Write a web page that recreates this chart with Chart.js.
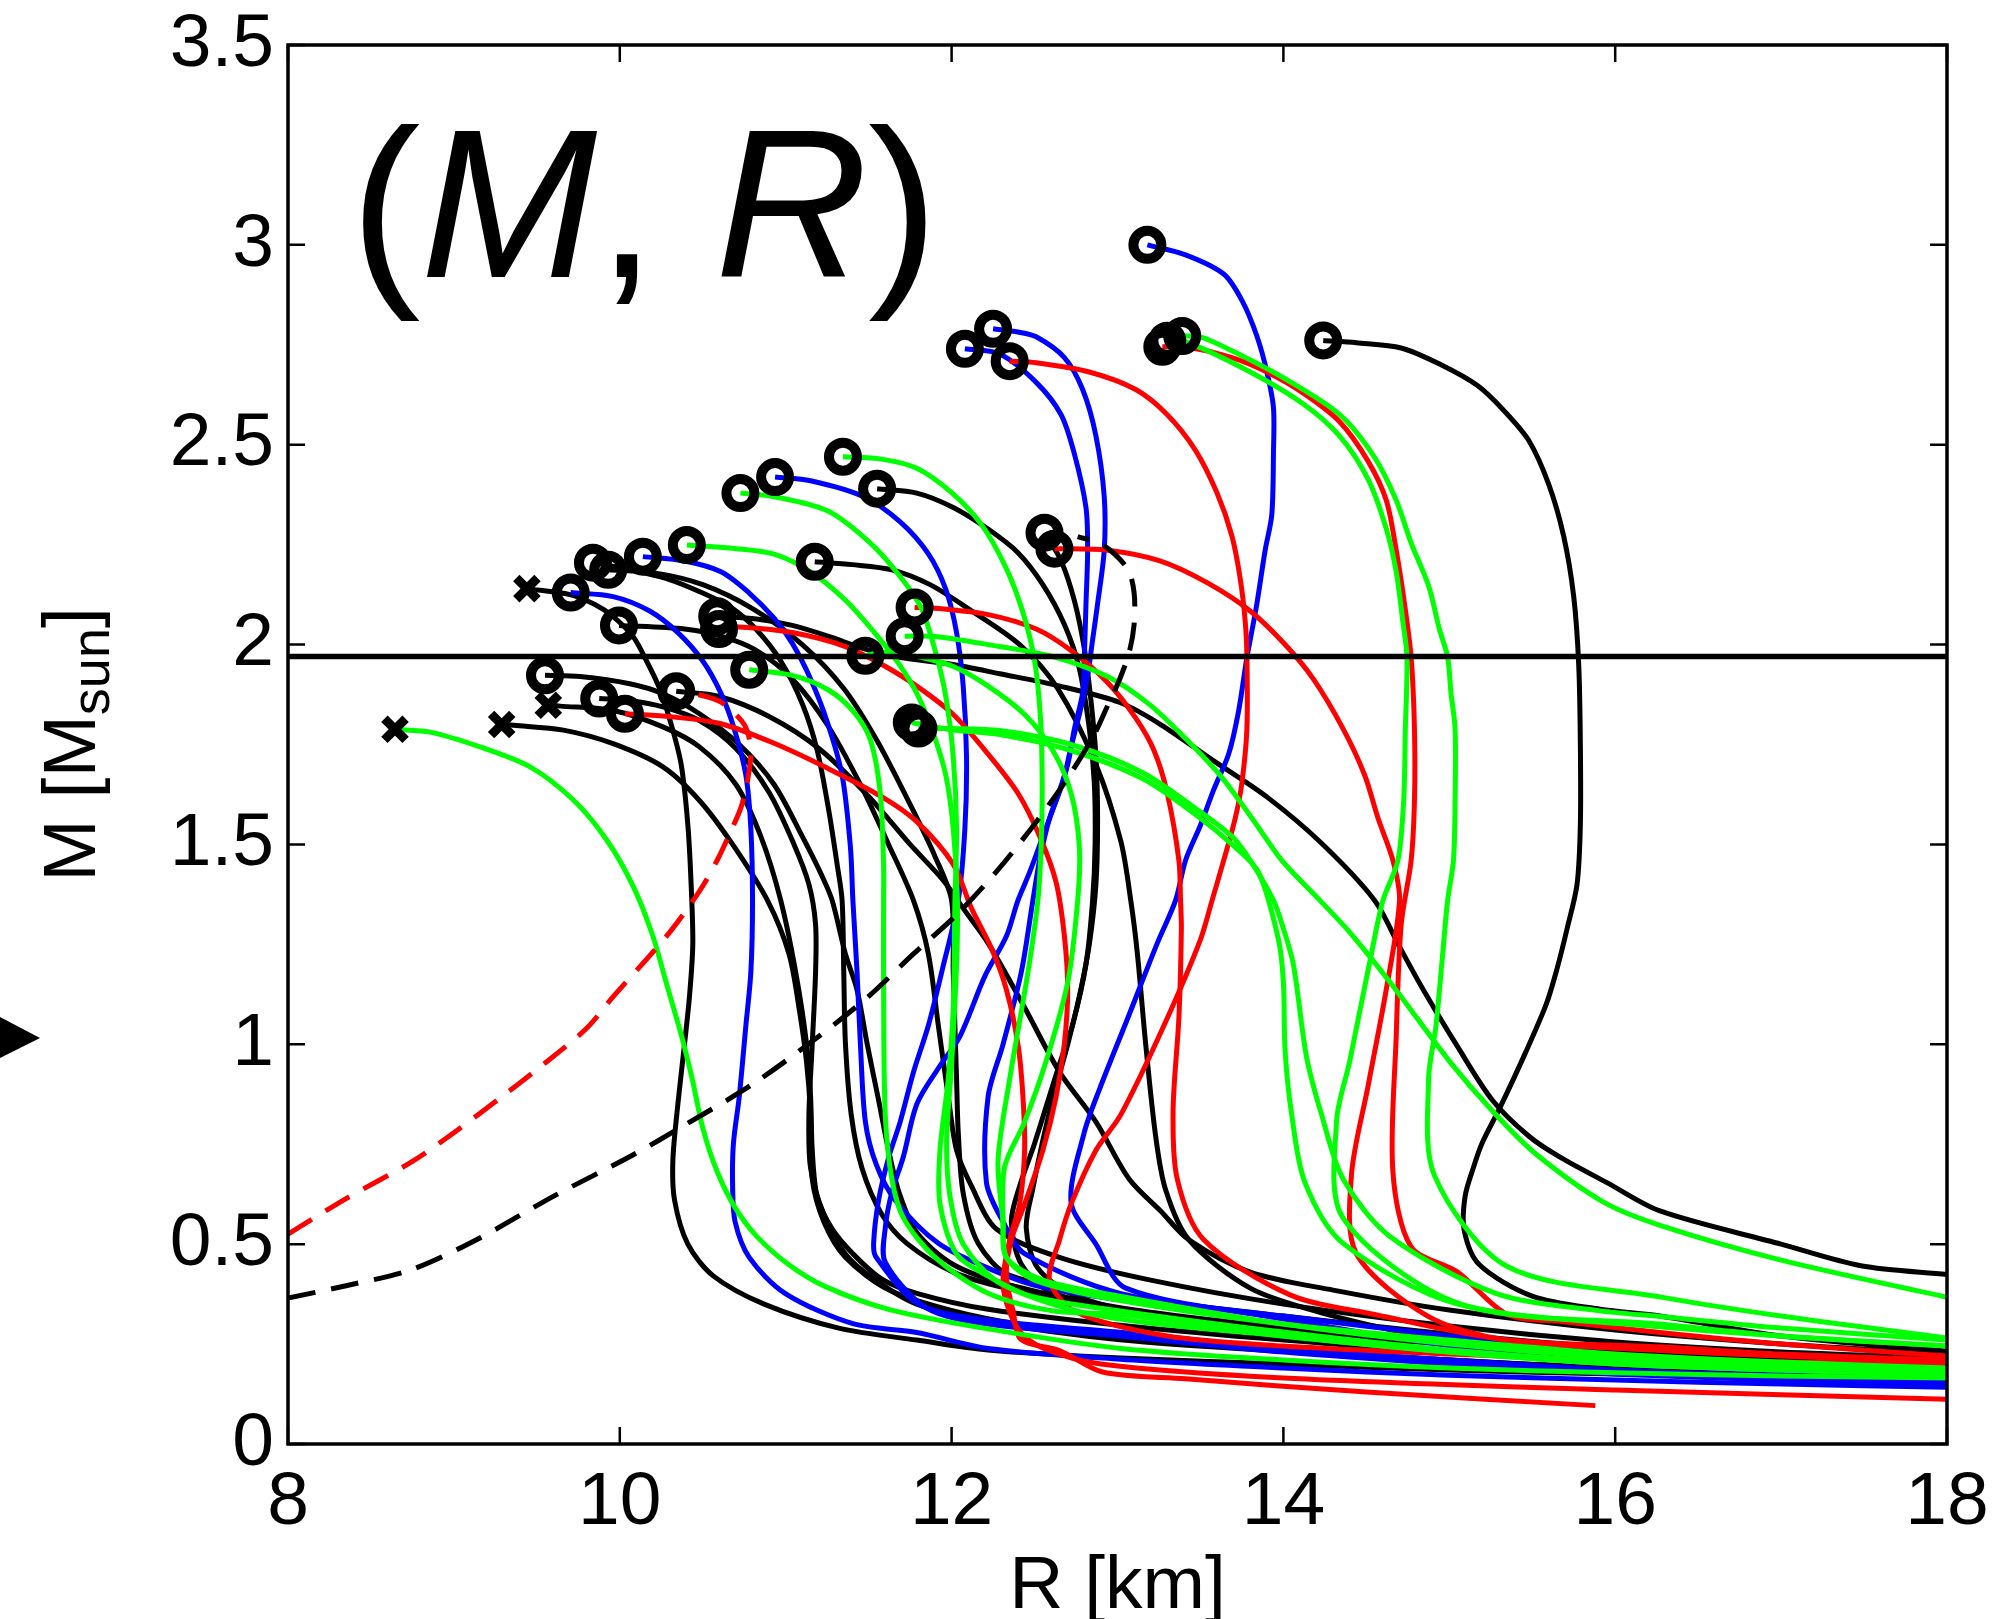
<!DOCTYPE html>
<html>
<head>
<meta charset="utf-8">
<title>(M, R)</title>
<script src="https://cdn.jsdelivr.net/npm/chart.js@4/dist/chart.umd.min.js"></script>
<style>
  html, body { margin: 0; padding: 0; background: #ffffff; }
  canvas { display: block; }
</style>
</head>
<body>
<canvas id="mr" width="1998" height="1619" style="width:1998px;height:1619px"></canvas>
<script>
// Axis ticks and labels
const xTicks = [8, 10, 12, 14, 16, 18];
const xTickLabels = ['8', '10', '12', '14', '16', '18'];
const yTicks = [0, 0.5, 1, 1.5, 2, 2.5, 3, 3.5];
const yTickLabels = ['0', '0.5', '1', '1.5', '2', '2.5', '3', '3.5'];

// Reference mass line
const massLine = 1.97;

// Mass-radius curves, [R in km, M in Msun], starting at the maximum-mass end
const blkK1 = [[14.24,2.761],[14.44,2.755],[14.71,2.742],[14.95,2.70],[15.17,2.648],[15.33,2.585],[15.48,2.51],[15.60,2.40],[15.69,2.27],[15.75,2.12],[15.78,1.95],[15.79,1.75],[15.79,1.55],[15.77,1.40],[15.71,1.289],[15.65,1.19],[15.585,1.101],[15.456,0.976],[15.306,0.842],[15.198,0.753],[15.144,0.69],[15.095,0.619],[15.09,0.534],[15.18,0.449],[15.50,0.37],[15.91,0.337],[16.27,0.32],[17.0,0.27],[18,0.232]];
const blkK2 = [[11.551,2.39],[11.79,2.379],[12.01,2.343],[12.22,2.289],[12.40,2.23],[12.55,2.15],[12.68,2.05],[12.77,1.94],[12.83,1.79],[12.86,1.655],[12.865,1.50],[12.85,1.36],[12.81,1.20],[12.73,1.05],[12.65,0.95],[12.50,0.752],[12.41,0.645],[12.36,0.556],[12.42,0.45],[12.6,0.38],[13.2,0.32],[14,0.28],[15,0.25],[16,0.222],[17,0.205],[18,0.19]];
const blkK3 = [[10.587,2.071],[10.824,2.064],[11.04,2.048],[11.255,2.021],[11.47,1.99],[11.685,1.968],[12.008,1.95],[12.29,1.927],[12.654,1.896],[13.015,1.855],[13.26,1.80],[13.58,1.709],[13.9,1.619],[14.23,1.503],[14.55,1.36],[14.70,1.244],[14.83,1.146],[15.05,0.994],[15.26,0.86],[15.48,0.77],[15.67,0.717],[15.95,0.654],[16.27,0.583],[17.0,0.50],[17.48,0.446],[18,0.424]];
const blkK4 = [[11.175,2.207],[11.40,2.20],[11.64,2.187],[11.87,2.15],[12.10,2.09],[12.41,2.0],[12.64,1.89],[12.87,1.70],[13.02,1.508],[13.08,1.36],[13.12,1.226],[13.17,1.0],[13.23,0.77],[13.29,0.636],[13.43,0.511],[13.80,0.39],[14.19,0.333],[14.62,0.288],[15.05,0.252],[15.48,0.234],[16.27,0.212],[17,0.198],[18,0.185]];
const blkK5 = [[9.44,2.14],[9.70,2.125],[9.85,2.10],[9.96,2.07],[10.08,2.02],[10.16,1.96],[10.24,1.89],[10.31,1.80],[10.37,1.70],[10.41,1.55],[10.43,1.40],[10.44,1.25],[10.42,1.12],[10.39,1.00],[10.35,0.85],[10.32,0.71],[10.33,0.61],[10.41,0.50],[10.565,0.42],[10.87,0.35],[11.32,0.29],[11.79,0.26],[12.22,0.235],[13.02,0.215],[14,0.2],[15,0.185],[16,0.175],[17,0.167],[18,0.16]];
const blkA = [[9.838,2.205],[10.03,2.19],[10.29,2.164],[10.50,2.129],[10.67,2.093],[10.82,2.039],[10.97,1.959],[11.10,1.852],[11.19,1.735],[11.26,1.584],[11.31,1.45],[11.34,1.36],[11.35,1.181],[11.36,1.003],[11.395,0.824],[11.46,0.69],[11.58,0.574],[11.73,0.502],[12.01,0.43],[12.33,0.39],[13.0,0.335],[14,0.29],[15,0.255],[16,0.228],[17,0.21],[18,0.198]];
const blkB = [[9.93,2.187],[10.2,2.18],[10.5,2.15],[10.8,2.09],[11.1,2.0],[11.35,1.89],[11.55,1.76],[11.75,1.6],[11.9,1.47],[12.0,1.36],[12.01,1.181],[12.03,0.913],[12.04,0.78],[12.07,0.627],[12.16,0.502],[12.35,0.422],[13.015,0.37],[14,0.32],[15,0.275],[16,0.24],[17,0.215],[18,0.2]];
const blkC = [[9.995,2.048],[10.39,2.039],[10.61,2.021],[10.82,1.986],[11.04,1.914],[11.25,1.80],[11.45,1.65],[11.62,1.50],[11.77,1.36],[11.86,1.226],[11.92,1.047],[11.98,0.869],[12.03,0.735],[12.12,0.645],[12.27,0.538],[12.65,0.467],[13.2,0.41],[14,0.35],[15,0.295],[16,0.255],[17,0.23],[18,0.215]];
const blkD = [[9.549,1.923],[9.76,1.92],[10.06,1.902],[10.26,1.877],[10.48,1.827],[10.72,1.75],[10.93,1.65],[11.1,1.52],[11.22,1.42],[11.28,1.36],[11.36,1.226],[11.43,1.136],[11.49,1.003],[11.56,0.86],[11.62,0.735],[11.685,0.627],[11.79,0.529],[12.01,0.449],[12.33,0.40],[13.015,0.341],[14,0.29],[15,0.25],[16,0.22],[17,0.2],[18,0.19]];
const blkE = [[9.569,1.848],[9.64,1.846],[9.96,1.835],[10.26,1.794],[10.48,1.744],[10.7,1.65],[10.85,1.52],[10.97,1.36],[11.06,1.181],[11.125,1.003],[11.15,0.869],[11.16,0.735],[11.19,0.618],[11.28,0.538],[11.405,0.476],[11.577,0.413],[11.79,0.377],[12.22,0.337],[13.015,0.297],[14,0.26],[15,0.23],[16,0.21],[17,0.195],[18,0.185]];
const blkF = [[9.288,1.80],[9.36,1.798],[9.66,1.786],[9.96,1.752],[10.26,1.694],[10.48,1.61],[10.68,1.50],[10.89,1.36],[11.02,1.226],[11.08,1.092],[11.125,0.958],[11.15,0.824],[11.16,0.663],[11.23,0.556],[11.36,0.467],[11.62,0.386],[12.01,0.333],[12.44,0.297],[13.015,0.266],[14,0.235],[15,0.21],[16,0.19],[17,0.18],[18,0.172]];
const blkG = [[9.876,1.865],[10.06,1.86],[10.26,1.844],[10.48,1.81],[10.7,1.74],[10.9,1.63],[11.05,1.5],[11.14,1.4],[11.18,1.30],[11.18,1.18],[11.16,1.0],[11.14,0.824],[11.15,0.69],[11.23,0.574],[11.36,0.475],[11.53,0.413],[11.79,0.35],[12.22,0.306],[13.015,0.261],[14,0.232],[15,0.21],[16,0.19],[17,0.18],[18,0.17]];
const blkH = [[10.34,1.883],[10.6,1.87],[10.9,1.82],[11.2,1.74],[11.5,1.62],[11.75,1.50],[11.95,1.41],[12.07,1.34],[12.22,1.253],[12.44,1.092],[12.65,0.931],[12.87,0.806],[13.07,0.663],[13.26,0.583],[13.43,0.511],[13.80,0.43],[14.3,0.385],[15,0.335],[16,0.285],[17,0.25],[18,0.226]];
const blkI = [[12.56,2.28],[12.66,2.21],[12.74,2.11],[12.80,1.99],[12.84,1.86],[12.87,1.72],[12.88,1.56],[12.87,1.40],[12.83,1.25],[12.77,1.12],[12.70,1.0],[12.62,0.88],[12.55,0.76],[12.49,0.64],[12.45,0.54],[12.52,0.44],[12.75,0.37],[13.3,0.315],[14.2,0.275],[15.2,0.245],[16.2,0.22],[17.2,0.2],[18,0.19]];

const bluB1 = [[13.18,3.0],[13.41,2.975],[13.64,2.927],[13.75,2.861],[13.84,2.772],[13.90,2.683],[13.94,2.593],[13.94,2.477],[13.93,2.325],[13.89,2.236],[13.84,2.102],[13.80,2.012],[13.78,1.968],[13.73,1.834],[13.67,1.726],[13.58,1.637],[13.50,1.548],[13.41,1.46],[13.35,1.36],[13.24,1.253],[13.07,1.074],[12.89,0.886],[12.80,0.78],[12.72,0.605],[12.87,0.50],[13.05,0.39],[13.97,0.315],[15.05,0.243],[16.27,0.199],[17,0.18],[18,0.165]];
const bluB2 = [[12.25,2.79],[12.40,2.782],[12.51,2.77],[12.68,2.718],[12.79,2.638],[12.87,2.522],[12.92,2.37],[12.92,2.236],[12.88,2.102],[12.85,2.012],[12.82,1.923],[12.775,1.834],[12.72,1.744],[12.67,1.655],[12.59,1.565],[12.53,1.46],[12.49,1.36],[12.42,1.18],[12.31,1.0],[12.22,0.869],[12.21,0.654],[12.31,0.556],[12.44,0.476],[13.015,0.377],[14,0.32],[15,0.27],[16,0.22],[17,0.19],[18,0.172]];
const bluB3 = [[12.08,2.74],[12.29,2.727],[12.51,2.656],[12.66,2.575],[12.74,2.477],[12.81,2.343],[12.82,2.236],[12.81,2.102],[12.80,1.968],[12.79,1.879],[12.74,1.789],[12.70,1.70],[12.63,1.61],[12.55,1.52],[12.47,1.43],[12.40,1.36],[12.33,1.27],[12.20,1.17],[12.05,1.02],[11.92,0.94],[11.79,0.85],[11.71,0.72],[11.64,0.63],[11.60,0.54],[11.60,0.455],[11.85,0.34],[12.22,0.30],[13.0,0.27],[14,0.23],[15,0.2],[16,0.175],[17,0.16],[18,0.15]];
const bluB4 = [[10.936,2.419],[11.15,2.41],[11.47,2.37],[11.69,2.307],[11.86,2.227],[11.965,2.138],[12.03,2.03],[12.07,1.896],[12.09,1.718],[12.08,1.539],[12.04,1.36],[11.94,1.18],[11.86,1.047],[11.77,0.93],[11.69,0.806],[11.62,0.716],[11.56,0.61],[11.53,0.502],[11.545,0.467],[11.8,0.35],[12.22,0.31],[13.0,0.28],[14,0.24],[15,0.21],[16,0.185],[17,0.17],[18,0.155]];
const bluB5 = [[9.704,2.13],[9.96,2.12],[10.18,2.084],[10.35,2.03],[10.50,1.959],[10.61,1.878],[10.69,1.789],[10.76,1.673],[10.79,1.539],[10.80,1.36],[10.79,1.181],[10.76,1.047],[10.72,0.869],[10.685,0.752],[10.68,0.645],[10.695,0.556],[10.78,0.467],[10.996,0.377],[11.405,0.301],[11.79,0.279],[12.22,0.239],[13.015,0.212],[14,0.19],[15,0.172],[16,0.16],[17,0.15],[18,0.142]];
const bluB6 = [[10.139,2.22],[10.39,2.209],[10.61,2.182],[10.78,2.129],[10.93,2.066],[11.04,2.003],[11.15,1.914],[11.25,1.807],[11.34,1.673],[11.39,1.494],[11.405,1.36],[11.43,1.181],[11.45,1.003],[11.48,0.807],[11.545,0.70],[11.66,0.61],[11.92,0.502],[12.22,0.44],[12.52,0.395],[13.015,0.36],[14,0.3],[15,0.25],[16,0.21],[17,0.18],[18,0.16]];

const redR1 = [[13.27,2.745],[13.41,2.745],[13.69,2.718],[13.90,2.682],[14.12,2.629],[14.34,2.557],[14.51,2.459],[14.62,2.361],[14.68,2.236],[14.73,2.102],[14.77,1.968],[14.79,1.789],[14.79,1.61],[14.77,1.46],[14.71,1.30],[14.68,1.02],[14.66,0.681],[14.77,0.493],[15.05,0.43],[15.35,0.324],[15.69,0.306],[16.27,0.279],[17,0.25],[18,0.22]];
const redR2 = [[12.35,2.709],[12.51,2.705],[12.83,2.682],[13.11,2.638],[13.30,2.575],[13.47,2.486],[13.60,2.379],[13.69,2.271],[13.74,2.164],[13.77,2.057],[13.78,1.968],[13.78,1.789],[13.75,1.655],[13.71,1.566],[13.64,1.46],[13.57,1.36],[13.50,1.262],[13.28,1.047],[13.02,0.824],[12.87,0.735],[12.72,0.60],[12.65,0.51],[12.59,0.41],[12.75,0.33],[13.3,0.27],[14,0.245],[15,0.225],[16,0.21],[17,0.205],[18,0.2]];
const redR3 = [[12.62,2.24],[12.94,2.236],[13.26,2.209],[13.54,2.155],[13.80,2.084],[14.01,2.0],[14.18,1.914],[14.36,1.789],[14.49,1.673],[14.57,1.566],[14.66,1.46],[14.70,1.36],[14.62,1.137],[14.51,0.895],[14.41,0.672],[14.44,0.476],[14.87,0.32],[15.33,0.261],[16.27,0.234],[17,0.22],[18,0.205]];
const redR4 = [[10.598,2.039],[10.72,2.044],[11.04,2.03],[11.36,1.995],[11.58,1.95],[11.79,1.896],[12.01,1.825],[12.22,1.726],[12.40,1.628],[12.53,1.521],[12.63,1.405],[12.68,1.27],[12.70,1.137],[12.68,1.003],[12.63,0.869],[12.55,0.735],[12.44,0.60],[12.36,0.511],[12.33,0.422],[12.37,0.333],[12.42,0.261],[12.65,0.234],[12.91,0.18],[13.41,0.163],[14.5,0.13],[15.88,0.096]];
const redR5 = [[11.777,2.093],[11.90,2.091],[12.22,2.075],[12.51,2.039],[12.72,1.985],[12.94,1.905],[13.11,1.816],[13.22,1.735],[13.30,1.628],[13.37,1.46],[13.38,1.36],[13.385,1.289],[13.37,1.066],[13.335,0.833],[13.36,0.663],[13.52,0.511],[14.04,0.373],[14.55,0.324],[15.33,0.261],[16.27,0.243],[17,0.225],[18,0.21]];
const redR6 = [[10.031,1.827],[10.29,1.82],[10.61,1.802],[10.93,1.753],[11.25,1.691],[11.58,1.619],[11.79,1.557],[12.01,1.45],[12.12,1.34],[12.24,1.24],[12.33,1.137],[12.40,1.0],[12.43,0.869],[12.44,0.735],[12.41,0.60],[12.35,0.51],[12.31,0.395],[12.40,0.288],[12.55,0.24],[12.9,0.2],[14,0.165],[16,0.135],[18,0.112]];

const grnG1 = [[8.645,1.788],[8.856,1.781],[9.157,1.744],[9.459,1.694],[9.72,1.611],[9.921,1.511],[10.082,1.394],[10.199,1.271],[10.285,1.146],[10.372,1.021],[10.436,0.914],[10.501,0.789],[10.587,0.681],[10.694,0.592],[10.824,0.52],[11.017,0.449],[11.233,0.395],[11.62,0.337],[12.22,0.288],[13.02,0.239],[14,0.21],[15,0.19],[16,0.178],[17,0.17],[18,0.165]];
const grnG2 = [[11.345,2.47],[11.577,2.464],[11.79,2.441],[12.0,2.38],[12.18,2.30],[12.33,2.19],[12.43,2.08],[12.50,1.96],[12.535,1.82],[12.546,1.66],[12.54,1.50],[12.52,1.36],[12.46,1.18],[12.35,0.913],[12.28,0.71],[12.31,0.556],[12.33,0.467],[12.55,0.41],[13.015,0.37],[14,0.3],[15,0.25],[16,0.215],[17,0.195],[18,0.18]];
const grnG3 = [[10.727,2.379],[10.93,2.37],[11.255,2.334],[11.51,2.254],[11.685,2.173],[11.815,2.093],[11.90,1.986],[11.965,1.87],[12.01,1.718],[12.03,1.539],[12.02,1.36],[12.01,1.092],[11.98,0.913],[11.93,0.735],[11.93,0.60],[12.03,0.475],[12.22,0.42],[12.48,0.37],[13.015,0.333],[14,0.28],[15,0.235],[16,0.205],[17,0.19],[18,0.178]];
const grnG4 = [[10.404,2.249],[10.7,2.24],[10.93,2.226],[11.15,2.182],[11.36,2.111],[11.535,2.03],[11.685,1.95],[11.79,1.878],[11.88,1.789],[11.965,1.673],[12.01,1.539],[12.035,1.36],[12.03,1.2],[12.0,0.95],[11.97,0.76],[11.99,0.62],[12.07,0.50],[12.3,0.40],[12.9,0.32],[14,0.27],[15,0.23],[16,0.2],[17,0.185],[18,0.172]];
const grnG5 = [[11.717,2.021],[11.9,2.02],[12.29,1.995],[12.61,1.97],[12.94,1.92],[13.19,1.851],[13.41,1.765],[13.62,1.672],[13.82,1.56],[13.99,1.46],[14.22,1.36],[14.40,1.28],[14.66,1.146],[15.0,0.958],[15.26,0.833],[15.52,0.726],[15.93,0.605],[16.27,0.547],[17.0,0.46],[18,0.367]];
const grnG6 = [[11.48,1.972],[11.58,1.981],[11.79,1.97],[12.01,1.945],[12.22,1.896],[12.44,1.825],[12.61,1.735],[12.72,1.628],[12.77,1.494],[12.76,1.36],[12.70,1.155],[12.57,0.958],[12.44,0.806],[12.32,0.694],[12.31,0.56],[12.33,0.467],[12.5,0.41],[13.0,0.36],[14,0.3],[15,0.26],[16,0.225],[17,0.205],[18,0.19]];
const grnG7 = [[10.78,1.937],[11.04,1.923],[11.255,1.887],[11.405,1.834],[11.51,1.762],[11.57,1.628],[11.59,1.45],[11.59,1.36],[11.59,1.137],[11.60,0.824],[11.64,0.663],[11.71,0.565],[11.90,0.467],[12.22,0.377],[12.61,0.333],[13.015,0.324],[14,0.27],[15,0.23],[16,0.2],[17,0.185],[18,0.175]];
const grnG8a = [[11.80,1.79],[12.0,1.79],[12.29,1.785],[12.72,1.75],[13.15,1.68],[13.47,1.59],[13.69,1.52],[13.80,1.46],[13.94,1.36],[14.00,1.289],[14.06,1.2],[14.14,0.967],[14.23,0.824],[14.36,0.663],[14.64,0.52],[15.28,0.377],[15.91,0.333],[16.27,0.319],[17,0.29],[18,0.26]];
const grnG8b = [[11.76,1.805],[12.0,1.787],[12.29,1.775],[12.72,1.735],[13.15,1.665],[13.47,1.575],[13.69,1.50],[13.85,1.43],[13.97,1.262],[14.00,1.155],[14.01,0.985],[14.05,0.824],[14.13,0.654],[14.36,0.502],[15.05,0.35],[16.27,0.293],[17,0.27],[18,0.245]];
const grnG9 = [[13.39,2.772],[13.50,2.77],[13.69,2.735],[14.01,2.665],[14.34,2.575],[14.55,2.468],[14.68,2.361],[14.77,2.254],[14.875,2.147],[14.94,2.039],[14.99,1.968],[15.01,1.879],[15.035,1.789],[15.035,1.61],[15.025,1.46],[14.99,1.36],[14.96,1.226],[14.92,1.047],[14.875,0.913],[14.91,0.672],[15.35,0.444],[16.27,0.368],[17,0.32],[18,0.265]];
const grnG10 = [[13.30,2.76],[13.41,2.758],[13.80,2.682],[14.12,2.602],[14.34,2.521],[14.51,2.414],[14.62,2.29],[14.68,2.182],[14.72,2.057],[14.745,1.968],[14.735,1.789],[14.725,1.61],[14.69,1.46],[14.60,1.36],[14.53,1.226],[14.40,0.958],[14.32,0.806],[14.36,0.565],[15.07,0.35],[16.27,0.30],[17,0.27],[18,0.245]];

// Dashed limit curves
const blkDash = [[8,0.365],[8.35,0.396],[8.75,0.437],[9.145,0.513],[9.61,0.622],[10.07,0.721],[10.4,0.80],[10.8,0.90],[11.2,1.02],[11.5,1.12],[11.77,1.226],[12.03,1.324],[12.27,1.432],[12.48,1.54],[12.69,1.66],[12.86,1.775],[12.95,1.856],[13.01,1.91],[13.07,1.98],[13.10,2.05],[13.10,2.13],[13.06,2.19],[12.91,2.25],[12.76,2.27]];
const redDash = [[8,0.525],[8.35,0.614],[8.75,0.707],[9.01,0.782],[9.28,0.866],[9.54,0.95],[9.8,1.04],[9.96,1.119],[10.19,1.226],[10.30,1.28],[10.405,1.338],[10.50,1.396],[10.59,1.463],[10.66,1.525],[10.73,1.592],[10.77,1.66],[10.79,1.735],[10.75,1.80],[10.61,1.856],[10.46,1.877]];

const BLACK = '#000000', RED = '#ff0000', BLUE = '#0000ff', GREEN = '#00ff00';
const FONT = "'Liberation Sans', Arial, Helvetica, sans-serif";
const LINE_W = 5;

// curve, end marker ('o' circle, 'x' cross)
const greenSeries = [
  [grnG1, 'x'], [grnG2, 'o'], [grnG3, 'o'], [grnG4, 'o'], [grnG5, 'o'], [grnG6, 'o'],
  [grnG7, 'o'], [grnG8a, 'o'], [grnG8b, 'o'], [grnG9, 'o'], [grnG10, 'o']
];
const redSeries = [[redR1, 'o'], [redR2, 'o'], [redR3, 'o'], [redR4, 'o'], [redR5, 'o'], [redR6, 'o']];
const blueSeries = [[bluB1, 'o'], [bluB2, 'o'], [bluB3, 'o'], [bluB4, 'o'], [bluB5, 'o'], [bluB6, 'o']];
const blackSeries = [
  [blkK1, 'o'], [blkK2, 'o'], [blkK3, 'o'], [blkK4, 'o'], [blkK5, 'x'], [blkA, 'o'], [blkB, 'o'],
  [blkC, 'o'], [blkD, 'o'], [blkE, 'x'], [blkF, 'x'], [blkG, 'o'], [blkH, 'o'], [blkI, 'o']
];

const toXY = arr => arr.map(([x, y]) => ({ x, y }));

function curveDataset(arr, color) {
  return {
    data: toXY(arr),
    showLine: true,
    borderColor: color,
    backgroundColor: color,
    borderWidth: LINE_W,
    pointRadius: 0,
    pointHoverRadius: 0,
    tension: 0.3,
    borderJoinStyle: 'round',
    fill: false
  };
}

const allSeries = [...greenSeries, ...redSeries, ...blueSeries, ...blackSeries];

const circleEnds = allSeries.filter(s => s[1] === 'o').map(s => ({ x: s[0][0][0], y: s[0][0][1] }));
const crossEnds = allSeries.filter(s => s[1] === 'x').map(s => ({ x: s[0][0][0], y: s[0][0][1] }));

const datasets = [
  {
    data: circleEnds, showLine: false, pointStyle: 'circle',
    radius: 14, pointRadius: 14, pointHoverRadius: 14,
    borderWidth: 10, pointBorderWidth: 10, borderColor: BLACK, pointBorderColor: BLACK,
    backgroundColor: 'rgba(0,0,0,0)', pointBackgroundColor: 'rgba(0,0,0,0)'
  },
  {
    data: crossEnds, showLine: false, pointStyle: 'crossRot',
    radius: 15, pointRadius: 15, pointHoverRadius: 15,
    borderWidth: 9, pointBorderWidth: 9, borderColor: BLACK, pointBorderColor: BLACK,
    backgroundColor: BLACK, pointBackgroundColor: BLACK
  },
  Object.assign(curveDataset([[8, massLine], [18, massLine]], BLACK), { borderWidth: 5.5, tension: 0 }),
  Object.assign(curveDataset(blkDash, BLACK), { borderDash: [28, 16] }),
  Object.assign(curveDataset(redDash, RED), { borderDash: [28, 16] }),
  ...greenSeries.map(s => curveDataset(s[0], GREEN)),
  ...redSeries.map(s => curveDataset(s[0], RED)),
  ...blueSeries.map(s => curveDataset(s[0], BLUE)),
  ...blackSeries.map(s => curveDataset(s[0], BLACK))
];

// Plot area placement within the canvas
const area = { left: 288, top: 45, right: 1947, bottom: 1444 };
const pad = { left: 0, right: 51, top: 45, bottom: 0 };
let yAxisWidth = area.left;
let xAxisHeight = 1619 - area.bottom;

// Frame, inward ticks and text decorations
const framePlugin = {
  id: 'frame',
  afterDraw(chart) {
    const { ctx, chartArea: a, scales } = chart;
    const xs = scales.x, ys = scales.y;
    ctx.save();
    ctx.strokeStyle = BLACK;
    ctx.lineWidth = 2.5;
    const tl = 17;
    ctx.beginPath();
    xTicks.forEach(v => {
      const px = xs.getPixelForValue(v);
      ctx.moveTo(px, a.bottom); ctx.lineTo(px, a.bottom - tl);
      ctx.moveTo(px, a.top); ctx.lineTo(px, a.top + tl);
    });
    yTicks.forEach(v => {
      const py = ys.getPixelForValue(v);
      ctx.moveTo(a.left, py); ctx.lineTo(a.left + tl, py);
      ctx.moveTo(a.right, py); ctx.lineTo(a.right - tl, py);
    });
    ctx.stroke();
    ctx.lineWidth = 3.5;
    ctx.strokeRect(a.left, a.top, a.right - a.left, a.bottom - a.top);

    ctx.fillStyle = BLACK;
    // x axis title
    ctx.font = `75px ${FONT}`;
    ctx.textAlign = 'center';
    ctx.textBaseline = 'alphabetic';
    ctx.fillText('R [km]', (a.left + a.right) / 2, 1608);

    // y axis title with subscript
    ctx.save();
    ctx.translate(95, (a.top + a.bottom) / 2);
    ctx.rotate(-Math.PI / 2);
    ctx.textAlign = 'left';
    const f1 = `75px ${FONT}`, f2 = `54px ${FONT}`;
    ctx.font = f1;
    const w1 = ctx.measureText('M [M').width;
    const w3 = ctx.measureText(']').width;
    ctx.font = f2;
    const w2 = ctx.measureText('sun').width;
    const x0 = -(w1 + w2 + w3) / 2;
    ctx.font = f1; ctx.fillText('M [M', x0, 0);
    ctx.font = f2; ctx.fillText('sun', x0 + w1, 14);
    ctx.font = f1; ctx.fillText(']', x0 + w1 + w2, 0);
    ctx.restore();

    // panel label (M, R)
    const parts = [['(', false], ['M', true], [', ', false], ['R', true], [')', false]];
    let tx = 350;
    ctx.textAlign = 'left';
    parts.forEach(([t, it]) => {
      ctx.font = `${it ? 'italic ' : ''}212px ${FONT}`;
      ctx.fillText(t, tx, 277);
      tx += ctx.measureText(t).width;
    });

    // marker at the left edge
    ctx.beginPath();
    ctx.moveTo(0, 1017); ctx.lineTo(40, 1038); ctx.lineTo(0, 1058); ctx.closePath();
    ctx.fill();
    ctx.restore();
  }
};

const chart = new Chart(document.getElementById('mr'), {
  type: 'scatter',
  data: { datasets },
  options: {
    responsive: false,
    devicePixelRatio: 1,
    animation: false,
    events: [],
    layout: { padding: Object.assign({}, pad) },
    plugins: { legend: { display: false }, tooltip: { enabled: false }, title: { display: false } },
    scales: {
      x: {
        type: 'linear', position: 'bottom', min: 8, max: 18,
        afterBuildTicks: s => { s.ticks = xTicks.map(v => ({ value: v })); },
        afterFit: s => { s.height = xAxisHeight; },
        grid: { display: false, drawTicks: false },
        border: { display: false },
        ticks: {
          autoSkip: false, maxRotation: 0, minRotation: 0, padding: 4, color: BLACK,
          font: { family: FONT, size: 75, lineHeight: 1.48 },
          callback: (v, i) => xTickLabels[i]
        }
      },
      y: {
        type: 'linear', position: 'left', min: 0, max: 3.5,
        afterBuildTicks: s => { s.ticks = yTicks.map(v => ({ value: v })); },
        afterFit: s => { s.width = yAxisWidth; },
        grid: { display: false, drawTicks: false },
        border: { display: false },
        ticks: {
          autoSkip: false, padding: 14, color: BLACK,
          font: { family: FONT, size: 75, lineHeight: 0.5 },
          callback: (v, i) => yTickLabels[i]
        }
      }
    }
  },
  plugins: [framePlugin]
});

// Nudge the layout so the plot frame lands on the intended pixel box
for (let k = 0; k < 4; k++) {
  const a = chart.chartArea;
  const dl = area.left - a.left, dt = area.top - a.top;
  const dr = area.right - a.right, db = area.bottom - a.bottom;
  if (Math.abs(dl) + Math.abs(dt) + Math.abs(dr) + Math.abs(db) < 0.5) break;
  yAxisWidth += dl;
  pad.top += dt;
  pad.right -= dr;
  xAxisHeight -= db;
  chart.options.layout.padding = Object.assign({}, pad);
  chart.update('none');
}
</script>
</body>
</html>
